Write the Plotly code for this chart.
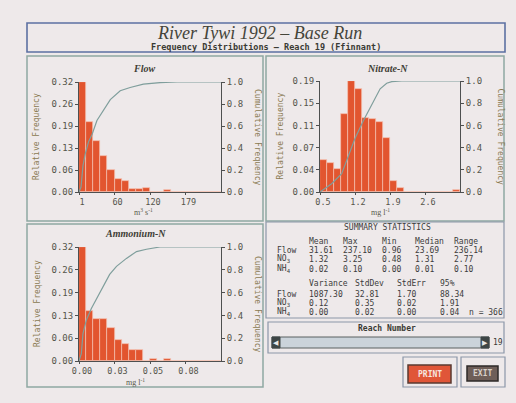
import plotly.graph_objects as go

W, H = 516, 403

# ---------------- data ----------------
flow_min, flow_max = 0.96, 237.10
flow_freq = [0.320, 0.204, 0.148, 0.104, 0.063, 0.037, 0.031, 0.010, 0.010, 0.013,
             0.000, 0.000, 0.005, 0.000, 0.000, 0.000, 0.000, 0.000, 0.000, 0.000]
flow_cdf_x = [1, 4.3, 7.6, 11.5, 17, 22.5, 30.8, 41.9, 53, 69.5, 86, 108, 136, 164, 237.1]
flow_cdf_y = [0, 0.045, 0.24, 0.35, 0.46, 0.52, 0.65, 0.75, 0.84, 0.92, 0.95, 0.98, 0.995, 1.0, 1.0]
flow_xticks = ["1", "60", "120", "179"]
flow_yticks = ["0.00", "0.06", "0.13", "0.19", "0.26", "0.32"]
flow_ymax = 0.32

no3_min, no3_max = 0.48, 3.25
no3_freq = [0.053, 0.049, 0.038, 0.130, 0.186, 0.172, 0.124, 0.122, 0.118, 0.090,
            0.019, 0.0075, 0.0, 0.0, 0.0, 0.0, 0.0, 0.0, 0.0, 0.003]
no3_cdf_x = [0.48, 0.71, 0.909, 1.04, 1.17, 1.34, 1.50, 1.67, 1.80, 1.90, 2.10, 3.25]
no3_cdf_y = [0.0, 0.075, 0.165, 0.33, 0.48, 0.645, 0.78, 0.93, 0.98, 0.995, 1.0, 1.0]
no3_xticks = ["0.5", "1.2", "1.9", "2.6"]
no3_yticks = ["0.00", "0.04", "0.07", "0.11", "0.15", "0.19"]
no3_ymax = 0.186

nh4_min, nh4_max = 0.00, 0.10
nh4_freq = [0.320, 0.140, 0.117, 0.117, 0.094, 0.058, 0.049, 0.032, 0.030, 0.000,
            0.006, 0.000, 0.005, 0.000, 0.000, 0.000, 0.000, 0.000, 0.000, 0.000]
nh4_cdf_x = [0, 0.00165, 0.0028, 0.0052, 0.0087, 0.0122, 0.0169, 0.0216, 0.0264,
             0.0334, 0.0405, 0.0475, 0.057, 0.10]
nh4_cdf_y = [0, 0.065, 0.24, 0.36, 0.46, 0.54, 0.65, 0.76, 0.83, 0.90, 0.96, 0.98, 1.0, 1.0]
nh4_xticks = ["0.00", "0.03", "0.05", "0.08"]
nh4_yticks = ["0.00", "0.06", "0.13", "0.19", "0.26", "0.32"]
nh4_ymax = 0.32

cum_ticks = ["0.0", "0.2", "0.4", "0.6", "0.8", "1.0"]

stat_rows = ["Flow", "NO<sub>3</sub>", "NH<sub>4</sub>"]
stat_head1 = ["Mean", "Max", "Min", "Median", "Range"]
stat_vals1 = [["31.61", "237.10", "0.96", "23.69", "236.14"],
              ["1.32", "3.25", "0.48", "1.31", "2.77"],
              ["0.02", "0.10", "0.00", "0.01", "0.10"]]
stat_head2 = ["Variance", "StdDev", "StdErr", "95%"]
stat_vals2 = [["1087.30", "32.81", "1.70", "88.34"],
              ["0.12", "0.35", "0.02", "1.91"],
              ["0.00", "0.02", "0.00", "0.04"]]
n_obs = "n = 366"
reach = "19"

# ---------------- style ----------------
BG = "#EEE9EA"
BAR = "#E2552F"
BARLINE = "#F3C2B2"
CDF = "#7F9E9C"
AXC = "#4E5050"
TICKC = "#55554A"
TITLEC = "#8A7A52"
MONO = "DejaVu Sans Mono"
SERIF = "Liberation Serif"


def px(x):
    return x / W


def py(y):
    return 1 - y / H


fig = go.Figure()


def add_hist(idx, vmin, vmax, freq, cx, cy, xt, yt, ymax, box, title, xtitle, title_xy, xtitle_xy, lt_x, rt_x):
    xa = "x" if idx == 1 else f"x{idx}"
    ya = "y" if idx == 1 else f"y{2*idx-1}"
    yb = f"y{2*idx}"
    n = len(freq)
    w = (vmax - vmin) / n
    centers = [vmin + w * (i + 0.5) for i in range(n)]
    fig.add_trace(go.Bar(x=centers, y=freq, width=w, marker=dict(color=BAR, line=dict(color=BARLINE, width=0.7)),
                         xaxis=xa, yaxis=ya, showlegend=False, hoverinfo="skip"))
    fig.add_trace(go.Scatter(x=cx, y=cy, mode="lines", line=dict(color=CDF, width=1.2),
                             xaxis=xa, yaxis=yb, showlegend=False, hoverinfo="skip"))
    x0, x1, y0, y1 = box
    xkey = "xaxis" if idx == 1 else f"xaxis{idx}"
    ykey = "yaxis" if idx == 1 else f"yaxis{2*idx-1}"
    ykey2 = f"yaxis{2*idx}"
    tf = dict(family=MONO, size=9, color=TICKC)
    tfx = dict(family=MONO, size=8.5, color=TICKC)
    fig.update_layout(**{
        xkey: dict(domain=[px(x0), px(x1)], range=[vmin, vmax], anchor=ya, showline=True, linecolor=AXC,
                   linewidth=1, ticks="outside", ticklen=2, tickcolor=AXC, automargin=False,
                   ticklabelshift=3,
                   tickvals=[vmin + (vmax - vmin) * k / 4 for k in range(4)], ticktext=xt,
                   tickfont=tfx, showgrid=False, zeroline=False, fixedrange=True),
        ykey: dict(domain=[py(y1), py(y0)], range=[0, ymax], anchor=xa, showline=True, linecolor=AXC,
                   linewidth=1, ticks="outside", ticklen=3, tickcolor=AXC, automargin=False,
                   tickvals=[ymax * k / 5 for k in range(6)], ticktext=yt, tickfont=tf,
                   showgrid=False, zeroline=False, fixedrange=True),
        ykey2: dict(domain=[py(y1), py(y0)], range=[0, 1], anchor=xa, overlaying=ya, side="right",
                    showline=True, linecolor=AXC, linewidth=1, ticks="outside", ticklen=3, tickcolor=AXC,
                    automargin=False,
                    tickvals=[k / 5 for k in range(6)], ticktext=cum_ticks, tickfont=tf,
                    showgrid=False, zeroline=False, fixedrange=True),
    })
    ann = [
        dict(x=px(title_xy[0]), y=py(title_xy[1]), text=f"<b><i>{title}</i></b>",
             font=dict(family=SERIF, size=10, color="#3E3E36")),
        dict(x=px(xtitle_xy[0]), y=py(xtitle_xy[1]), text=xtitle,
             font=dict(family=SERIF, size=8, color="#5A5A4A")),
        dict(x=px(lt_x), y=(py(y0) + py(y1)) / 2, text="Relative Frequency", textangle=-90,
             font=dict(family=MONO, size=8, color=TITLEC)),
        dict(x=px(rt_x), y=(py(y0) + py(y1)) / 2, text="Cumulative Frequency", textangle=90,
             font=dict(family=MONO, size=8, color=TITLEC)),
    ]
    return ann


annotations = []
annotations += add_hist(1, flow_min, flow_max, flow_freq, flow_cdf_x, flow_cdf_y, flow_xticks, flow_yticks,
                        flow_ymax, (79, 221, 82, 192), "Flow", "m<sup>3</sup> s<sup>-1</sup>",
                        (144, 68), (143, 212), 36, 258)
annotations += add_hist(2, no3_min, no3_max, no3_freq, no3_cdf_x, no3_cdf_y, no3_xticks, no3_yticks,
                        no3_ymax, (320, 460, 81, 192), "Nitrate-N", "mg l<sup>-1</sup>",
                        (387, 68), (380, 212), 280, 500)
annotations += add_hist(3, nh4_min, nh4_max, nh4_freq, nh4_cdf_x, nh4_cdf_y, nh4_xticks, nh4_yticks,
                        nh4_ymax, (79, 221, 247, 361), "Ammonium-N", "mg l<sup>-1</sup>",
                        (135, 233), (135, 381.5), 37, 258)

# titles
annotations.append(dict(x=px(259), y=py(32.5), text="<i>River Tywi 1992 \u2013 Base Run</i>",
                        font=dict(family=SERIF, size=18, color="#45453A")))
annotations.append(dict(x=px(266), y=py(46.5), text="<b>Frequency Distributions \u2013 Reach 19 (Ffinnant)</b>",
                        font=dict(family=MONO, size=8.5, color="#3A3A34")))

# summary statistics
sf = dict(family=MONO, size=8, color="#3C3C3C")
annotations.append(dict(x=px(387), y=py(227), text="SUMMARY STATISTICS", font=sf))
col1 = [307, 341, 380, 413, 452]
col2 = [307, 353, 395, 438]
rows1 = [250, 259, 269]
rows2 = [294, 303, 312]
for j, h in enumerate(stat_head1):
    annotations.append(dict(x=px(col1[j]), y=py(241), text=h, xanchor="left", font=sf))
for j, h in enumerate(stat_head2):
    annotations.append(dict(x=px(col2[j]), y=py(283), text=h, xanchor="left", font=sf))
for i, r in enumerate(stat_rows):
    annotations.append(dict(x=px(275), y=py(rows1[i]), text=r, xanchor="left", font=sf))
    annotations.append(dict(x=px(275), y=py(rows2[i]), text=r, xanchor="left", font=sf))
    for j, v in enumerate(stat_vals1[i]):
        annotations.append(dict(x=px(col1[j]), y=py(rows1[i]), text=v, xanchor="left", font=sf))
    for j, v in enumerate(stat_vals2[i]):
        annotations.append(dict(x=px(col2[j]), y=py(rows2[i]), text=v, xanchor="left", font=sf))
annotations.append(dict(x=px(467), y=py(312), text=n_obs, xanchor="left", font=sf))

# reach number slider
annotations.append(dict(x=px(387), y=py(328), text="<b>Reach Number</b>", font=dict(family=MONO, size=8, color="#3A3A34")))
annotations.append(dict(x=px(491), y=py(342.5), text=reach, xanchor="left", font=dict(family=MONO, size=8, color="#3A3A34")))
annotations.append(dict(x=px(276), y=py(342.5), text="\u25c0", font=dict(size=7, color="#E8E8E8")))
annotations.append(dict(x=px(485), y=py(342.5), text="\u25b6", font=dict(size=7, color="#E8E8E8")))

# buttons
annotations.append(dict(x=px(429.5), y=py(374), text="<b>PRINT</b>", font=dict(family=MONO, size=8, color="#F6E6E0")))
annotations.append(dict(x=px(482.5), y=py(373.5), text="<b>EXIT</b>", font=dict(family=MONO, size=8, color="#D8D0C8")))

for a in annotations:
    a.setdefault("xref", "paper")
    a.setdefault("yref", "paper")
    a.setdefault("showarrow", False)
    a.setdefault("xanchor", "center")
    a.setdefault("yanchor", "middle")

shapes = []


def rect(x0, y0, x1, y1, color, width=1.5, fill=None):
    shapes.append(dict(type="rect", xref="paper", yref="paper", x0=px(x0), x1=px(x1), y0=py(y1), y1=py(y0),
                       line=dict(color=color, width=width), fillcolor=fill if fill else "rgba(0,0,0,0)",
                       layer="below" if fill is None else "above"))


PANEL = "#8FA8A2"
rect(27, 23, 505, 52, "#5C70A2", 1.6)
rect(27, 56, 263, 221, PANEL)
rect(266, 56, 504, 221, PANEL)
rect(27, 224, 263, 387, PANEL)
rect(266, 222, 504, 318, "#8C97A8", 1.2)
rect(268, 322, 504, 353, "#8C97A8", 1.2)
# slider
rect(272, 337, 489, 348, "#5A6060", 1, "#CBD3DA")
rect(272, 337, 280, 348, "#3E4646", 1, "#3E4646")
rect(481, 337, 489, 348, "#3E4646", 1, "#3E4646")
# buttons
rect(403, 357, 457, 387, "#8C97A8", 1.2)
rect(408, 365, 451, 383, "#5A3A30", 1.5, "#E05638")
rect(461, 357, 505, 387, "#8C97A8", 1.2)
rect(467, 366, 498, 381, "#2E2A28", 1.5, "#6E5E58")

fig.update_layout(template="none", width=W, height=H, margin=dict(l=0, r=0, t=0, b=0, autoexpand=False),
                  paper_bgcolor=BG, plot_bgcolor=BG,
                  annotations=annotations, shapes=shapes, bargap=0, showlegend=False)

fig.write_html("out.html", config={"displayModeBar": False},
               post_script="document.body.style.margin='0';document.body.style.background='#EEE9EA';")
